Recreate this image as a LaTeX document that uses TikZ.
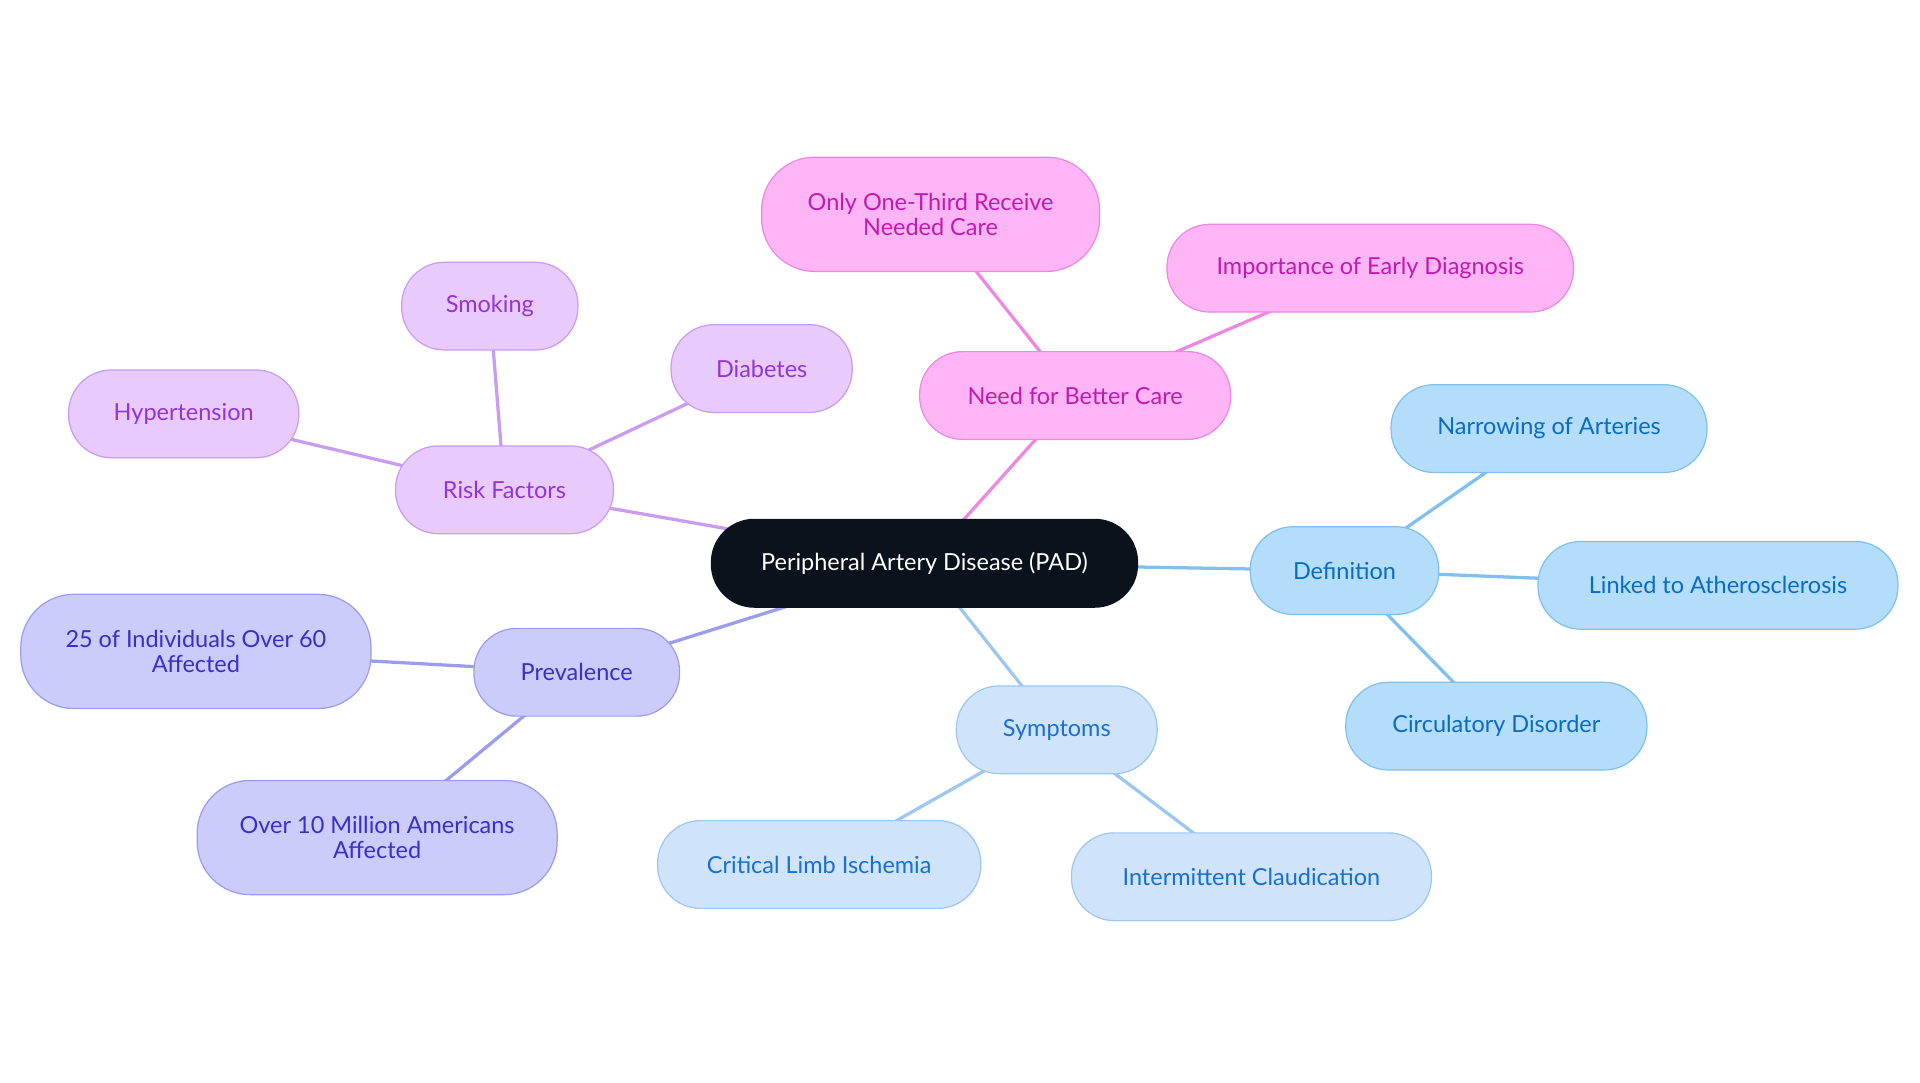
\documentclass[tikz,border=0pt]{standalone}
\usepackage{fontspec}
\setmainfont{Lato}
\usetikzlibrary{backgrounds}
\definecolor{pkF}{HTML}{FDB5F5}\definecolor{pkD}{HTML}{EE86E2}\definecolor{pkT}{HTML}{C21AB0}
\definecolor{puF}{HTML}{E8CBFC}\definecolor{puD}{HTML}{C99BF1}\definecolor{puT}{HTML}{9333D8}
\definecolor{inF}{HTML}{CBCBFC}\definecolor{inD}{HTML}{9C9CEE}\definecolor{inT}{HTML}{3B2FC9}
\definecolor{syF}{HTML}{CFE3FB}\definecolor{syD}{HTML}{9CC7F0}\definecolor{syT}{HTML}{1A6FD0}
\definecolor{deF}{HTML}{B3DDFB}\definecolor{deD}{HTML}{7FC0EE}\definecolor{deT}{HTML}{0A6CC0}
\definecolor{core}{HTML}{0B121C}
\tikzset{x=0.6pt,y=-0.6pt,
 b/.style={rounded corners=21pt,minimum height=43pt,align=center,font=\fontsize{11.5}{12.5}\selectfont,line width=0.6pt,inner sep=2pt},
 b2/.style={b,minimum height=56pt,rounded corners=26pt},
 pk/.style={fill=pkF,draw=pkD,text=pkT},
 pu/.style={fill=puF,draw=puD,text=puT},
 ig/.style={fill=inF,draw=inD,text=inT},
 sy/.style={fill=syF,draw=syD,text=syT},
 de/.style={fill=deF,draw=deD,text=deT},
 e/.style={line width=1.6pt}}
\begin{document}
\begin{tikzpicture}
\useasboundingbox (0,0) rectangle (1568,884.4);
\node[b,fill=core,draw=core,text=white,minimum width=348*0.6pt] (pad) at (755,460) {Peripheral Artery Disease (PAD)};
\node[b,pk,minimum width=254*0.6pt] (need) at (878,323) {Need for Better Care};
\node[b2,pk,minimum width=276*0.6pt] (third) at (760,175) {Only One-Third Receive\\Needed Care};
\node[b,pk,minimum width=332*0.6pt] (early) at (1119,219) {Importance of Early Diagnosis};
\node[b,pu,minimum width=178*0.6pt] (risk) at (412,400) {Risk Factors};
\node[b,pu,minimum width=144*0.6pt] (smk) at (400,250) {Smoking};
\node[b,pu,minimum width=148*0.6pt] (dia) at (622,301) {Diabetes};
\node[b,pu,minimum width=188*0.6pt] (hyp) at (150,338) {Hypertension};
\node[b,ig,minimum width=168*0.6pt] (prev) at (471,549) {Prevalence};
\node[b2,ig,minimum width=286*0.6pt] (p25) at (160,532) {25 of Individuals Over 60\\Affected};
\node[b2,ig,minimum width=294*0.6pt] (p10) at (308,684) {Over 10 Million Americans\\Affected};
\node[b,sy,minimum width=164*0.6pt] (sym) at (863,596) {Symptoms};
\node[b,sy,minimum width=264*0.6pt] (cli) at (669,706) {Critical Limb Ischemia};
\node[b,sy,minimum width=294*0.6pt] (ic) at (1022,716) {Intermittent Claudication};
\node[b,de,minimum width=154*0.6pt] (def) at (1098,466) {Definition};
\node[b,de,minimum width=258*0.6pt] (nar) at (1265,350) {Narrowing of Arteries};
\node[b,de,minimum width=294*0.6pt] (ath) at (1403,478) {Linked to Atherosclerosis};
\node[b,de,minimum width=246*0.6pt] (circ) at (1222,593) {Circulatory Disorder};
\begin{scope}[on background layer]
\draw[e,pkD] (pad.center) -- (need.center) (need.center) -- (third.center) (need.center) -- (early.center);
\draw[e,puD] (pad.center) -- (risk.center) (risk.center) -- (smk.center) (risk.center) -- (dia.center) (risk.center) -- (hyp.center);
\draw[e,inD] (pad.center) -- (prev.center) (prev.center) -- (p25.center) (prev.center) -- (p10.center);
\draw[e,syD] (pad.center) -- (sym.center) (sym.center) -- (cli.center) (sym.center) -- (ic.center);
\draw[e,deD] (pad.center) -- (def.center) (def.center) -- (nar.center) (def.center) -- (ath.center) (def.center) -- (circ.center);
\end{scope}
\end{tikzpicture}
\end{document}
